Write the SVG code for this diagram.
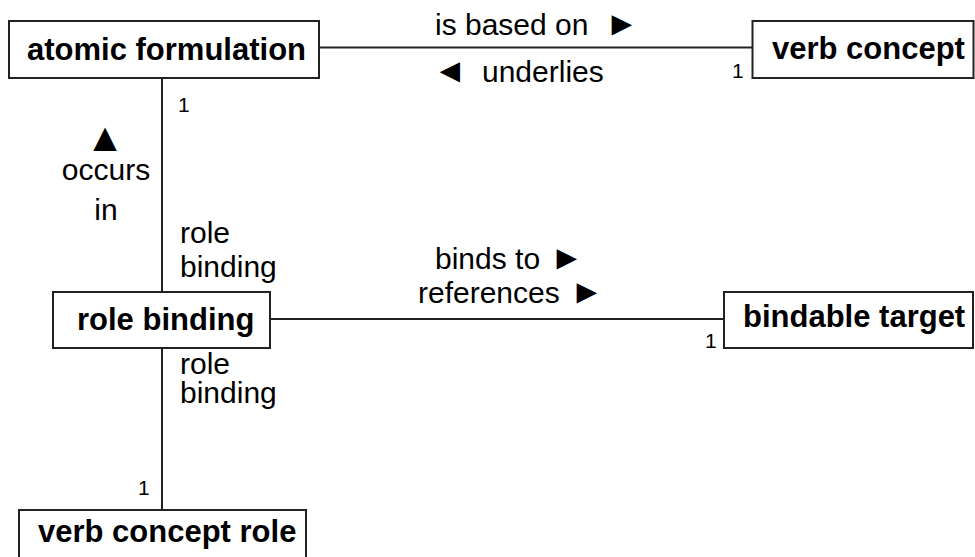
<svg xmlns="http://www.w3.org/2000/svg" width="975" height="557" viewBox="0 0 975 557">
  <style>
    .box { fill: #ffffff; stroke: #222222; stroke-width: 2; }
    .name { font-family: "Liberation Sans", Arial, sans-serif; font-size: 31px; font-weight: bold; fill: #000000; }
    .lbl { font-family: "Liberation Sans", Arial, sans-serif; font-size: 30px; fill: #000000; }
    .ptr { font-size: 34px; }
    .up { font-size: 40px; }
    .mult { font-family: "Liberation Sans", Arial, sans-serif; font-size: 21px; fill: #000000; }
    .conn { stroke: #222222; stroke-width: 2; fill: none; }
  </style>
  <rect width="975" height="557" fill="#ffffff"/>

  <!-- associations and their role / reading labels -->
  <g id="connectors">
    <line class="conn" x1="319" y1="47.5" x2="752" y2="47.5"/>
    <line class="conn" x1="162" y1="78" x2="162" y2="292"/>
    <line class="conn" x1="162" y1="348" x2="162" y2="510"/>
    <line class="conn" x1="270" y1="319" x2="724" y2="319"/>

    <text class="lbl" x="435" y="35">is based on<tspan class="ptr" x="605">►</tspan></text>
    <text class="lbl" x="433" y="82"><tspan class="ptr">◄</tspan><tspan x="482">underlies</tspan></text>
    <text class="mult" x="732" y="78">1</text>
    <text class="mult" x="178" y="112">1</text>

    <text class="lbl up" x="105" y="151" text-anchor="middle">▲</text>
    <text class="lbl" x="106" y="180" text-anchor="middle">occurs</text>
    <text class="lbl" x="106" y="220" text-anchor="middle">in</text>
    <text class="lbl" x="180" y="243">role</text>
    <text class="lbl" x="180" y="277">binding</text>

    <text class="lbl" x="435" y="269">binds to<tspan class="ptr" x="550">►</tspan></text>
    <text class="lbl" x="418" y="303">references<tspan class="ptr" x="570">►</tspan></text>
    <text class="mult" x="705" y="348">1</text>

    <text class="lbl" x="180" y="374">role</text>
    <text class="lbl" x="180" y="403">binding</text>
    <text class="mult" x="138" y="495">1</text>
  </g>

  <g id="atomic-formulation">
    <rect class="box" x="9" y="21" width="310" height="57"/>
    <text class="name" x="27" y="60">atomic formulation</text>
  </g>

  <g id="verb-concept">
    <rect class="box" x="752.5" y="21" width="221" height="57"/>
    <text class="name" x="772" y="59">verb concept</text>
  </g>

  <g id="role-binding">
    <rect class="box" x="53" y="292" width="217" height="56"/>
    <text class="name" x="77" y="330">role binding</text>
  </g>

  <g id="bindable-target">
    <rect class="box" x="724" y="292" width="249" height="56"/>
    <text class="name" x="743" y="327">bindable target</text>
  </g>

  <g id="verb-concept-role">
    <rect class="box" x="19" y="510" width="287" height="60"/>
    <text class="name" x="38" y="542">verb concept role</text>
  </g>
</svg>
